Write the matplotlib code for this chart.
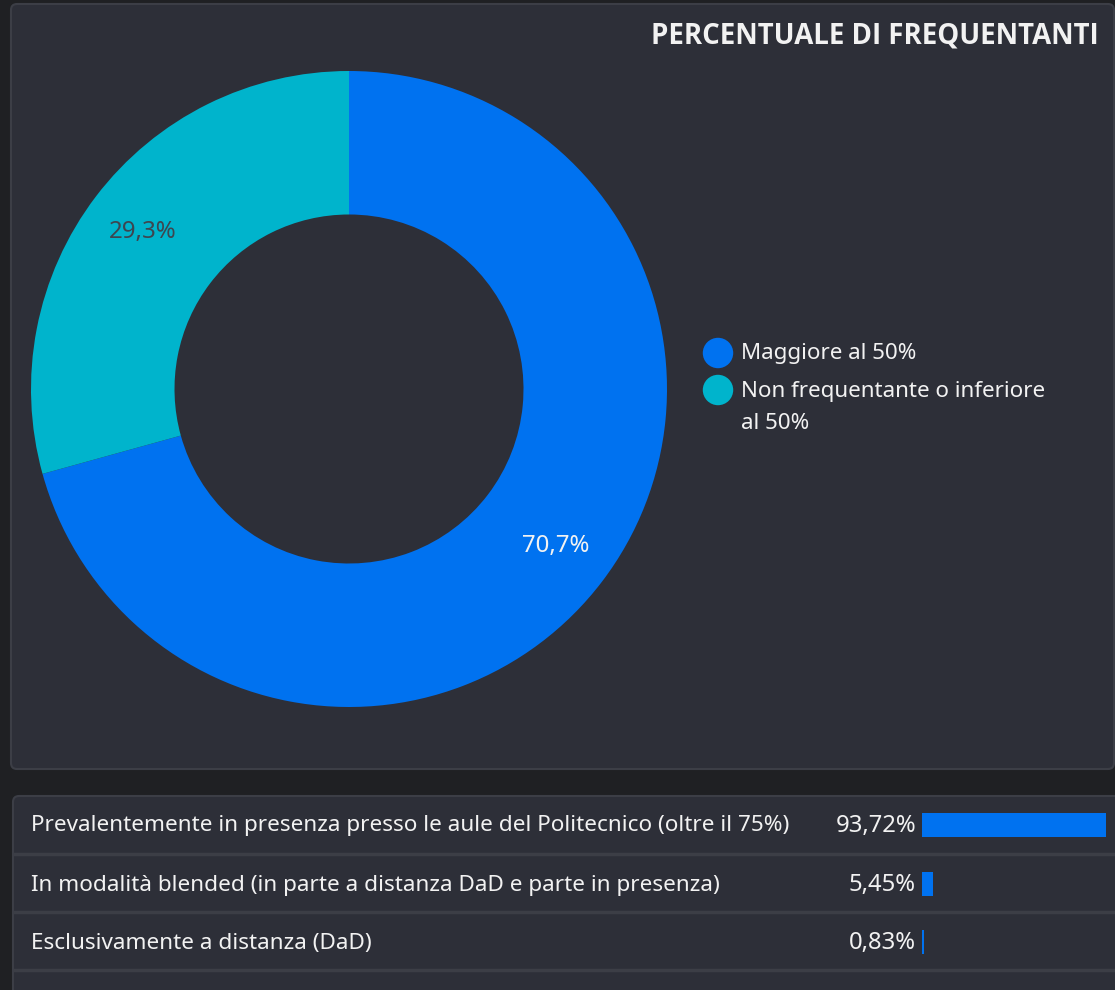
import matplotlib
matplotlib.use("Agg")
import matplotlib.pyplot as plt
from matplotlib.patches import FancyBboxPatch

# ---------------- data ----------------
donut_labels = ["Maggiore al 50%", "Non frequentante o inferiore\nal 50%"]
donut_values = [70.7, 29.3]
donut_colors = ["#0072f0", "#00b4cc"]
title = "PERCENTUALE DI FREQUENTANTI"

table_labels = [
    "Prevalentemente in presenza presso le aule del Politecnico (oltre il 75%)",
    "In modalità blended (in parte a distanza DaD e parte in presenza)",
    "Esclusivamente a distanza (DaD)",
]
table_values = [93.72, 5.45, 0.83]

# ---------------- style ----------------
W, H = 1115, 990
DPI = 100
BG = "#1f2023"
PANEL = "#2d2f38"
BORDER = "#3c3e46"
TEXT = "#f2f2f2"
FONT = ["Noto Sans", "DejaVu Sans"]
plt.rcParams["font.family"] = FONT

fig = plt.figure(figsize=(W / DPI, H / DPI), dpi=DPI, facecolor=BG)

# background axes in pixel coordinates
bg = fig.add_axes([0, 0, 1, 1])
bg.set_xlim(0, W)
bg.set_ylim(H, 0)
bg.axis("off")
bg.set_zorder(0)

bg.add_patch(FancyBboxPatch((11, 4), 1103, 765, boxstyle="round,pad=0,rounding_size=6",
                            facecolor=PANEL, edgecolor=BORDER, linewidth=1.5))
bg.add_patch(FancyBboxPatch((13, 796), 1120, 220, boxstyle="round,pad=0,rounding_size=6",
                            facecolor=PANEL, edgecolor=BORDER, linewidth=1.5))

bg.text(1099, 36, title, ha="right", va="center", color=TEXT, fontsize=19.9,
        fontweight="bold", family=["Open Sans", "DejaVu Sans"])

# ---------------- donut ----------------
cx, cy, R = 349, 389, 318
pax = fig.add_axes([(cx - R) / W, (H - cy - R) / H, 2 * R / W, 2 * R / H])
pax.set_zorder(1)
inner = 174.5 / R


def fmt(p):
    return f"{p:.1f}%".replace(".", ",")


wedges, _, autotexts = pax.pie(
    donut_values, colors=donut_colors, startangle=90, counterclock=False,
    radius=1, autopct=fmt, pctdistance=0.815,
    wedgeprops=dict(width=1 - inner, edgecolor="none"),
    textprops=dict(fontsize=17.3),
)
autotexts[0].set_color("#f2f2f2")
autotexts[1].set_color("#3d4650")
pax.set_xlim(-1, 1)
pax.set_ylim(-1, 1)
pax.set_aspect("equal")
pax.axis("off")

# legend
leg_y = [353, 390]
for lab, col, y in zip(donut_labels, donut_colors, leg_y):
    bg.scatter([718], [y], s=480, color=col, edgecolors="none", zorder=3)
    if "\n" in lab:
        bg.text(741, y + 17.5, lab, ha="left", va="center",
                color=TEXT, fontsize=16.1, linespacing=1.72)
    else:
        bg.text(741, y, lab, ha="left", va="center", color=TEXT, fontsize=16.1)

# ---------------- table ----------------
row_centers = [825, 884, 942]
sep_y = [854, 912, 970]
for y in sep_y:
    bg.plot([13, W], [y, y], color=BORDER, linewidth=2.5, solid_capstyle="butt")

for lab, val, y in zip(table_labels, table_values, row_centers):
    bg.text(31, y + 1, lab, ha="left", va="center", color=TEXT, fontsize=16.2)
    bg.text(916, y + 1, f"{val:.2f}%".replace(".", ","), ha="right", va="center",
            color=TEXT, fontsize=17.2)

# bars in their own axes (0-100 scale)
bx0, bw = 922, 196
top, bottom = 796, 970
bax = fig.add_axes([bx0 / W, (H - bottom) / H, bw / W, (bottom - top) / H])
bax.set_zorder(2)
bax.patch.set_alpha(0)
bax.set_xlim(0, 100)
bax.set_ylim(bottom, top)
bax.barh(row_centers, table_values, height=24, left=0, color="#0072f0")
bax.axis("off")

fig.savefig("out.png", dpi=DPI, facecolor=BG)
